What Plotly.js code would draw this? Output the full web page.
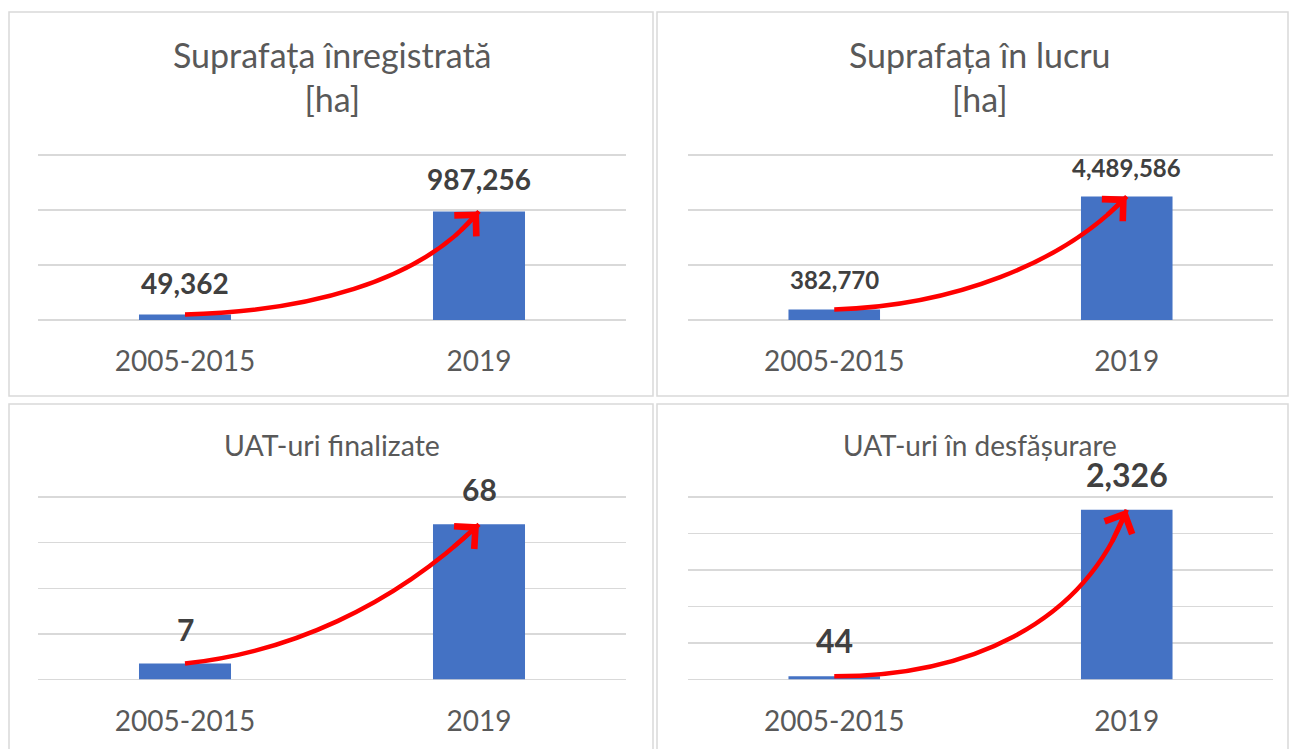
<!DOCTYPE html>
<html>
<head>
<meta charset="utf-8">
<script src="https://cdn.plot.ly/plotly-3.0.1.min.js"></script>
<style>
  html, body { margin: 0; padding: 0; background: #ffffff; }
  #chart { width: 1289px; height: 749px; }
</style>
</head>
<body>
<div id="chart"></div>
<script>
// ---- data ----
const categories = ['2005-2015', '2019'];
const titleInregistrata = 'Suprafața înregistrată<br>[ha]';
const titleInLucru = 'Suprafața în lucru<br>[ha]';
const titleUatFinalizate = 'UAT-uri finalizate';
const titleUatDesfasurare = 'UAT-uri în desfășurare';
const valuesInregistrata = [49362, 987256];
const valuesInLucru = [382770, 4489586];
const valuesUatFinalizate = [7, 68];
const valuesUatDesfasurare = [44, 2326];

// ---- layout / style configuration ----
const W = 1289, H = 749;
const px = v => v / W;
const py = v => 1 - v / H;

const panels = [
  { title: titleInregistrata, values: valuesInregistrata,
    xdom: [px(38), px(626)], ydom: [py(320), py(155)], yr: 1500000, dtick: 500000,
    titleSize: 34, titleY: py(76), labelSize: 28, labelShift: 13,
    box: [9, 12, 653, 396], c1: [0.4, 0.03], c2: [0.8, 0.3] },
  { title: titleInLucru, values: valuesInLucru,
    xdom: [px(688), px(1273)], ydom: [py(320), py(155)], yr: 6000000, dtick: 2000000,
    titleSize: 34, titleY: py(76), labelSize: 24, labelShift: 13,
    box: [657, 12, 1288, 396], c1: [0.4, 0.03], c2: [0.78, 0.4] },
  { title: titleUatFinalizate, values: valuesUatFinalizate,
    xdom: [px(38), px(626)], ydom: [py(679.5), py(497)], yr: 80, dtick: 20,
    titleSize: 28.5, titleY: py(445), labelSize: 30, labelShift: 15,
    box: [9, 404, 653, 760], c1: [0.35, 0.08], c2: [0.7, 0.4] },
  { title: titleUatDesfasurare, values: valuesUatDesfasurare,
    xdom: [px(688), px(1273)], ydom: [py(679.5), py(497)], yr: 2500, dtick: 500,
    titleSize: 28, titleY: py(445), labelSize: 32, labelShift: 14,
    box: [657, 404, 1288, 760], c1: [0.45, 0.0], c2: [0.85, 0.3] }
];

const barColor = '#4472C4';
const gridColor = '#d9d9d9';
const textGray = '#595959';
const labelGray = '#404040';
const arrowRed = '#ff0000';
const fontFamily = 'Lato, "Open Sans", sans-serif';

const data = [];
const layout = {
  width: W, height: H,
  margin: { l: 0, r: 0, t: 0, b: 0 },
  paper_bgcolor: '#ffffff',
  plot_bgcolor: '#ffffff',
  showlegend: false,
  font: { family: fontFamily, color: textGray },
  annotations: [],
  shapes: []
};

function bez(p0, p1, p2, p3, t) {
  const u = 1 - t;
  return u*u*u*p0 + 3*u*u*t*p1 + 3*u*t*t*p2 + t*t*t*p3;
}

panels.forEach((p, i) => {
  const n = i + 1;
  const xa = 'x' + (n === 1 ? '' : n);
  const ya = 'y' + (n === 1 ? '' : n);
  const xkey = 'xaxis' + (n === 1 ? '' : n);
  const ykey = 'yaxis' + (n === 1 ? '' : n);
  const xIdx = categories.map((c, k) => k);
  // small headroom so the top gridline is not clipped at the plot edge
  const pad = 1.03;
  const top = p.yr * pad;
  const dom = [p.ydom[0], p.ydom[0] + (p.ydom[1] - p.ydom[0]) * pad];

  data.push({
    type: 'bar', x: xIdx, y: p.values, xaxis: xa, yaxis: ya,
    width: 0.313, marker: { color: barColor }, hoverinfo: 'skip'
  });

  layout[xkey] = {
    domain: p.xdom, anchor: ya, range: [-0.5, 1.5], fixedrange: true,
    tickmode: 'array', tickvals: xIdx, ticktext: categories,
    showgrid: false, zeroline: false, showline: false, ticks: '',
    ticklabelstandoff: 22,
    tickfont: { family: fontFamily, size: 28, color: textGray }
  };
  layout[ykey] = {
    domain: dom, anchor: xa, range: [0, top], dtick: p.dtick, tick0: 0,
    fixedrange: true, showticklabels: false, ticks: '',
    showgrid: true, gridcolor: gridColor, gridwidth: 1.5,
    zeroline: true, zerolinecolor: gridColor, zerolinewidth: 1.5, showline: false
  };

  // panel border
  layout.shapes.push({
    type: 'rect', xref: 'paper', yref: 'paper', layer: 'below',
    x0: px(p.box[0]), x1: px(p.box[2]), y0: py(p.box[3]), y1: py(p.box[1]),
    line: { color: gridColor, width: 1.5 }, fillcolor: 'rgba(0,0,0,0)'
  });

  // title
  layout.annotations.push({
    xref: 'paper', yref: 'paper', x: (p.xdom[0] + p.xdom[1]) / 2, y: p.titleY,
    xanchor: 'center', yanchor: 'middle', showarrow: false, text: p.title,
    font: { family: fontFamily, size: p.titleSize, color: textGray }
  });

  // value labels
  p.values.forEach((v, k) => {
    layout.annotations.push({
      xref: xa, yref: ya, x: xIdx[k], y: v, xanchor: 'center', yanchor: 'bottom',
      yshift: p.labelShift, showarrow: false,
      text: '<b>' + v.toLocaleString('en-US') + '</b>',
      font: { family: fontFamily, size: p.labelSize, color: labelGray }
    });
  });

  // red growth arrow: curve from first bar top to second bar top
  const x0 = xIdx[0], x3 = xIdx[1];
  const y0 = p.values[0], y3 = p.values[1];
  const X = f => x0 + f * (x3 - x0);
  const Y = f => y0 + f * (y3 - y0);
  const cx1 = X(p.c1[0]), cy1 = Y(p.c1[1]);
  const cx2 = X(p.c2[0]), cy2 = Y(p.c2[1]);
  layout.shapes.push({
    type: 'path', xref: xa, yref: ya, layer: 'above',
    path: `M ${x0},${y0} C ${cx1},${cy1} ${cx2},${cy2} ${x3},${y3}`,
    line: { color: arrowRed, width: 4.5 }
  });
  const tt = 0.9;
  layout.annotations.push({
    xref: xa, yref: ya, axref: xa, ayref: ya,
    x: x3, y: y3, ax: bez(x0, cx1, cx2, x3, tt), ay: bez(y0, cy1, cy2, y3, tt),
    text: '', showarrow: true, arrowhead: 4, arrowsize: 1.3, arrowwidth: 4.5,
    arrowcolor: arrowRed, standoff: 0
  });
});

Plotly.newPlot('chart', data, layout, { displayModeBar: false, staticPlot: true });
</script>
</body>
</html>
